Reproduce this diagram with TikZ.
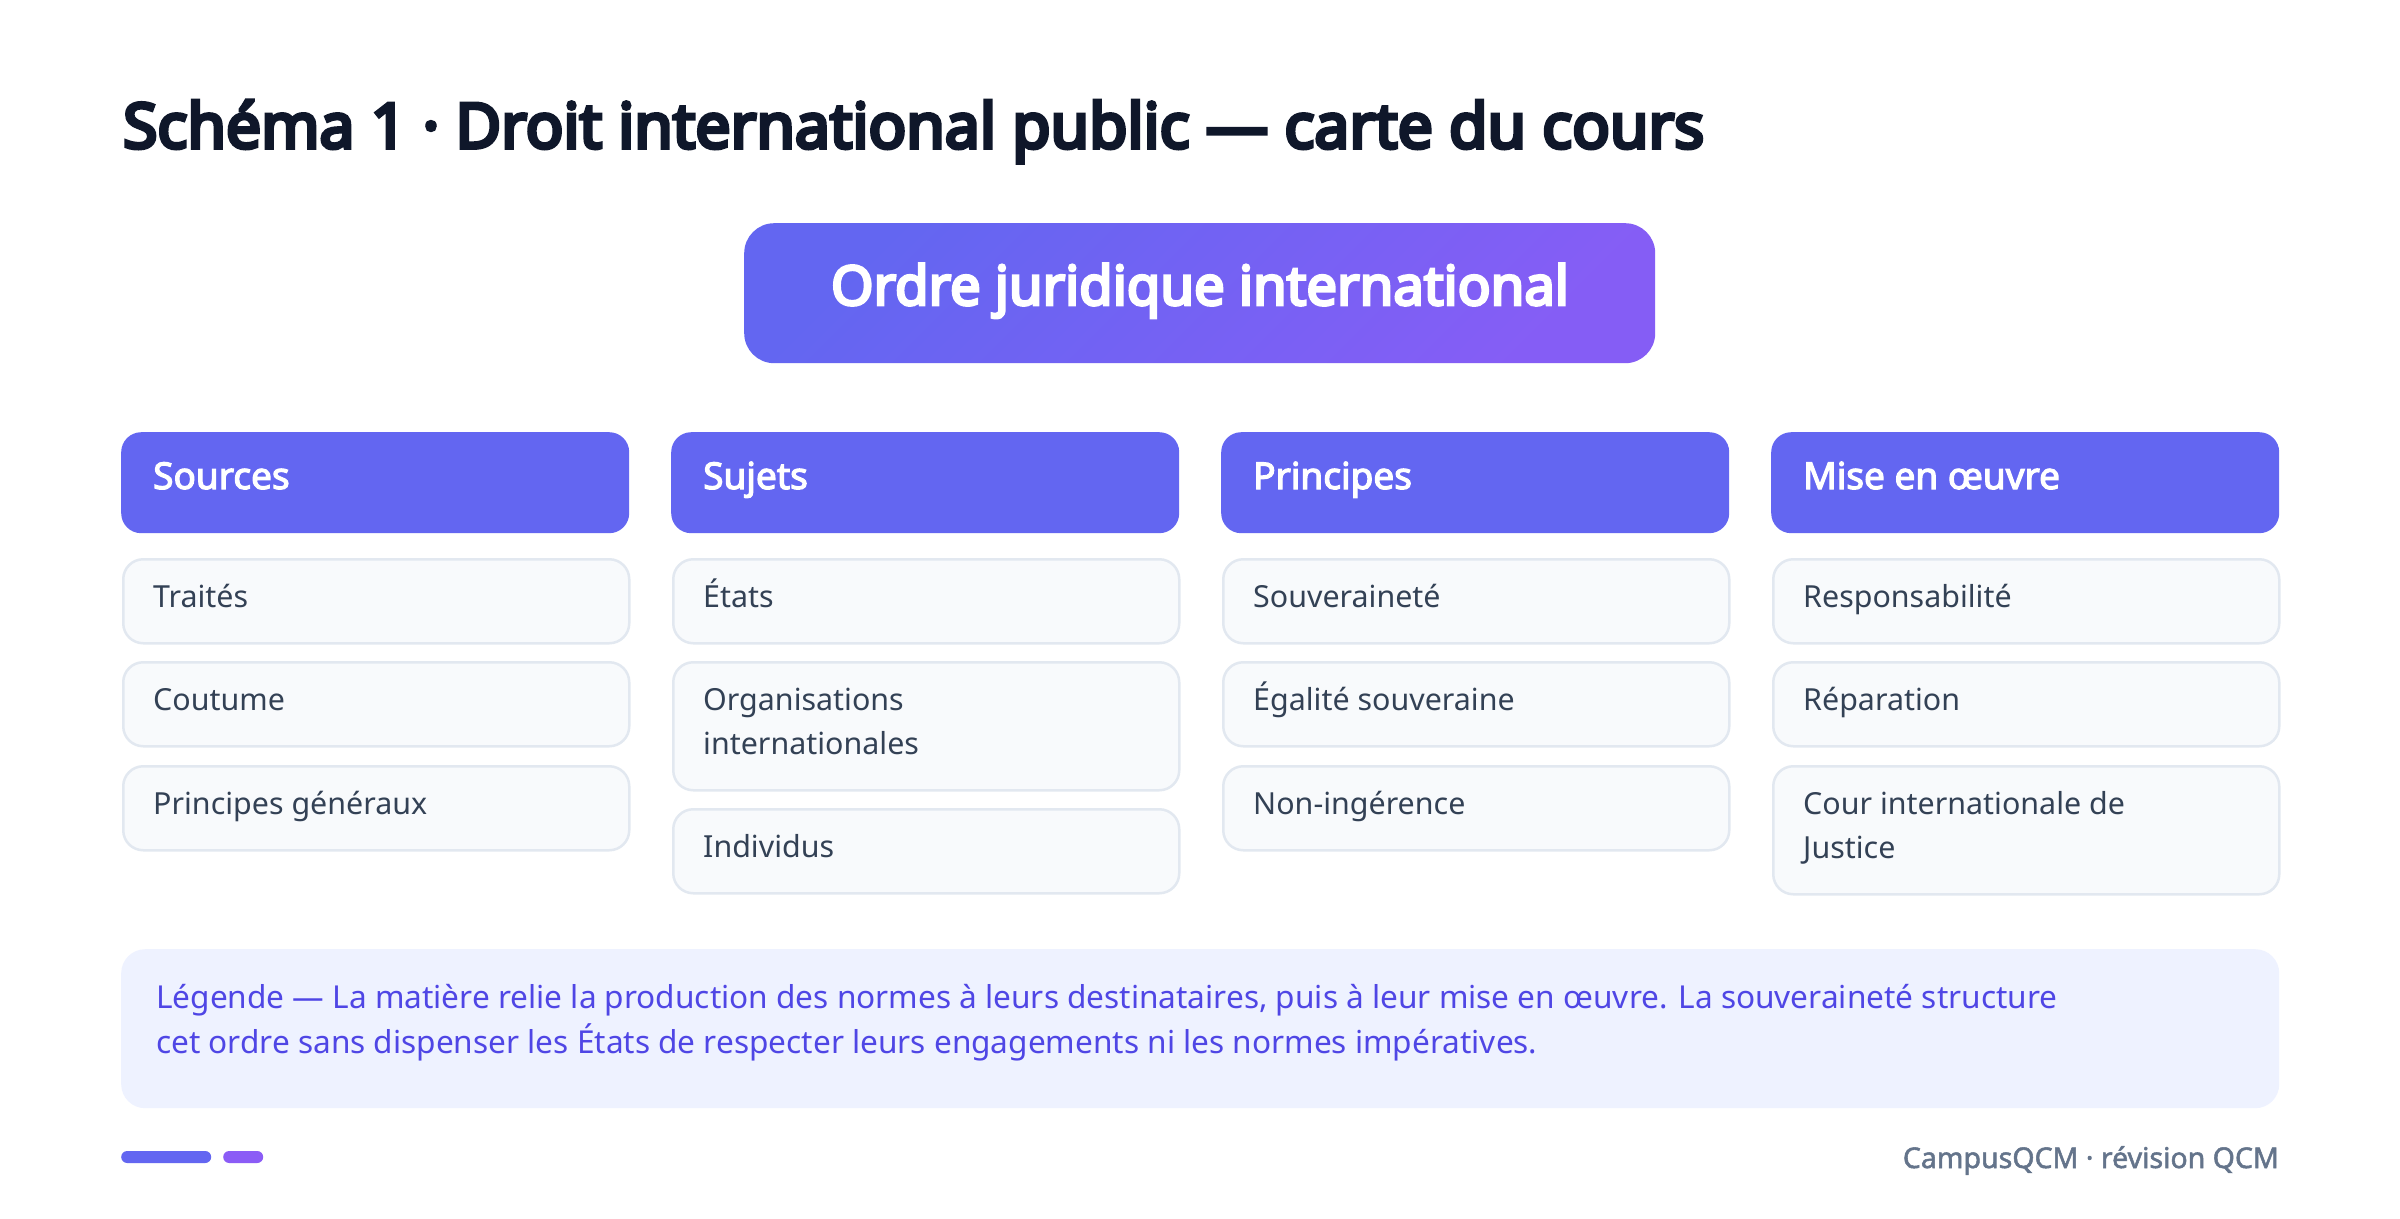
\documentclass[tikz,border=0pt]{standalone}
\usepackage{fontspec}
\setmainfont{Noto Sans}[AutoFakeBold=2]
\newfontfamily\heavyfont{Noto Sans}[FakeBold=6]
\newfontfamily\mainfont{Noto Sans}[FakeBold=5]
\newfontfamily\boldfont{Noto Sans}[FakeBold=3.2]
\newfontfamily\semifont{Noto Sans}[FakeBold=1.8]
\usepackage{graphicx}
\definecolor{ink}{HTML}{0F172A}
\definecolor{indigoA}{HTML}{6366F1}
\definecolor{violetA}{HTML}{8B5CF6}
\definecolor{itemfill}{HTML}{F8FAFC}
\definecolor{itemborder}{HTML}{E2E8F0}
\definecolor{itemtext}{HTML}{334155}
\definecolor{legfill}{HTML}{EEF2FF}
\definecolor{legtext}{HTML}{4F46E5}
\definecolor{foot}{HTML}{64748B}
\tikzset{
  hdrbox/.style={fill=indigoA, draw=none, rounded corners=20pt, minimum width=508pt, minimum height=101pt, inner sep=0pt, anchor=north west},
  itembox/.style={fill=itemfill, draw=itemborder, line width=2.5pt, rounded corners=20pt, minimum width=506pt, inner sep=0pt, anchor=north west},
  single/.style={itembox, minimum height=84pt},
  double/.style={itembox, minimum height=128pt},
  hdrtext/.style={anchor=base west, inner sep=0pt, text=white, font=\boldfont\fontsize{37}{44}\selectfont},
  itemtxt/.style={anchor=base west, inner sep=0pt, text=itemtext, font=\fontsize{30.4}{44}\selectfont},
  legtxt/.style={anchor=base west, inner sep=0pt, text=legtext, font=\fontsize{31.6}{45}\selectfont},
}
\begin{document}
\begin{tikzpicture}[x=1pt,y=-1pt]
\useasboundingbox[fill=white] (0,0) rectangle (2400,1218);
% title
\node[anchor=base west, inner sep=0pt, text=ink] (title) at (123,148)
  {\resizebox{1581pt}{!}{\heavyfont\fontsize{52}{60}\selectfont Schéma 1 · Droit international public — carte du cours}};
% main box
\node[rounded corners=30pt, minimum width=911pt, minimum height=140pt, inner sep=0pt,
      top color=indigoA, bottom color=violetA!85!indigoA, shading angle=45, anchor=north west] (main) at (744,223) {};
\node[anchor=base, inner sep=0pt, text=white] (maintxt) at (1200,305)
  {\resizebox{738pt}{!}{\mainfont\fontsize{44}{50}\selectfont Ordre juridique international}};
% column 1
\node[hdrbox] (h1) at (121,432) {};
\node[hdrtext] (h1t) at ([shift={(32,57)}]h1.north west) {Sources};
\node[single] (a1) at (122,558) {};
\node[itemtxt] (a1t) at ([shift={(31,49)}]a1.north west) {Traités};
\node[single] (a2) at (122,661) {};
\node[itemtxt] (a2t) at ([shift={(31,49)}]a2.north west) {Coutume};
\node[single] (a3) at (122,765) {};
\node[itemtxt] (a3t) at ([shift={(31,49)}]a3.north west) {Principes généraux};
% column 2
\node[hdrbox] (h2) at (671,432) {};
\node[hdrtext] (h2t) at ([shift={(32,57)}]h2.north west) {Sujets};
\node[single] (b1) at (672,558) {};
\node[itemtxt] (b1t) at ([shift={(31,49)}]b1.north west) {États};
\node[double] (b2) at (672,661) {};
\node[itemtxt] (b2t) at ([shift={(31,49)}]b2.north west) {Organisations};
\node[itemtxt] (b2u) at ([shift={(31,93)}]b2.north west) {internationales};
\node[single] (b3) at (672,808) {};
\node[itemtxt] (b3t) at ([shift={(31,49)}]b3.north west) {Individus};
% column 3
\node[hdrbox] (h3) at (1221,432) {};
\node[hdrtext] (h3t) at ([shift={(32,57)}]h3.north west) {Principes};
\node[single] (c1) at (1222,558) {};
\node[itemtxt] (c1t) at ([shift={(31,49)}]c1.north west) {Souveraineté};
\node[single] (c2) at (1222,661) {};
\node[itemtxt] (c2t) at ([shift={(31,49)}]c2.north west) {Égalité souveraine};
\node[single] (c3) at (1222,765) {};
\node[itemtxt] (c3t) at ([shift={(31,49)}]c3.north west) {Non-ingérence};
% column 4
\node[hdrbox] (h4) at (1771,432) {};
\node[hdrtext] (h4t) at ([shift={(32,57)}]h4.north west) {Mise en œuvre};
\node[single] (d1) at (1772,558) {};
\node[itemtxt] (d1t) at ([shift={(31,49)}]d1.north west) {Responsabilité};
\node[single] (d2) at (1772,661) {};
\node[itemtxt] (d2t) at ([shift={(31,49)}]d2.north west) {Réparation};
\node[double] (d3) at (1772,765) {};
\node[itemtxt] (d3t) at ([shift={(31,49)}]d3.north west) {Cour internationale de};
\node[itemtxt] (d3u) at ([shift={(31,93)}]d3.north west) {Justice};
% legend
\node[fill=legfill, draw=none, rounded corners=24pt, minimum width=2158pt, minimum height=159pt, inner sep=0pt, anchor=north west] (leg) at (121,949) {};
\node[legtxt] (leg1) at (156,1008) {Légende — La matière relie la production des normes à leurs destinataires, puis à leur mise en œuvre. La souveraineté structure};
\node[legtxt] (leg2) at (156,1053) {cet ordre sans dispenser les États de respecter leurs engagements ni les normes impératives.};
% footer
\node[fill=indigoA, rounded corners=6pt, minimum width=90pt, minimum height=12pt, inner sep=0pt, anchor=west] (bar1) at (121,1157) {};
\node[fill=violetA, rounded corners=6pt, minimum width=40pt, minimum height=12pt, inner sep=0pt, anchor=west] (bar2) at (223,1157) {};
\node[anchor=base east, inner sep=0pt, text=foot, font=\semifont\fontsize{28.5}{30}\selectfont] (brand) at (2279,1168) {CampusQCM · révision QCM};
\end{tikzpicture}
\end{document}
